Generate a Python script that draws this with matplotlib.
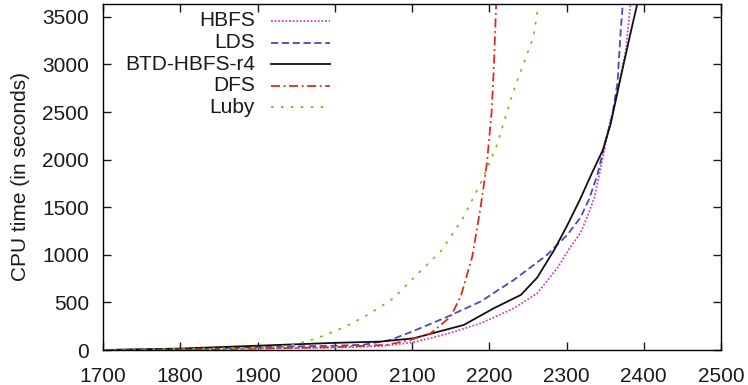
import numpy as np
import matplotlib
matplotlib.use('Agg')
import matplotlib.pyplot as plt

plt.rcParams['font.family'] = ['Liberation Sans', 'DejaVu Sans']

# data (instance count -> cpu time)
hbfs_x = [1700, 1800, 1900, 2000, 2059, 2102, 2146, 2189, 2232, 2262, 2288, 2305, 2318, 2327, 2336, 2344, 2355, 2364, 2377, 2383]
hbfs_y = [0, 5, 15, 25, 40, 80, 170, 281, 439, 596, 860, 1080, 1230, 1400, 1600, 1900, 2351, 2631, 3158, 3650]

lds_x = [1700, 1800, 1900, 2000, 2037, 2072, 2102, 2146, 2189, 2232, 2275, 2301, 2318, 2329, 2340, 2351, 2359, 2366, 2370, 2373]
lds_y = [0, 10, 30, 45, 55, 105, 200, 350, 510, 737, 1000, 1210, 1390, 1580, 1840, 2210, 2456, 2807, 3333, 3650]

btd_x = [1700, 1800, 1900, 2000, 2059, 2102, 2167, 2206, 2241, 2262, 2284, 2301, 2318, 2333, 2347, 2357, 2370, 2383, 2392]
btd_y = [0, 15, 45, 75, 88, 123, 263, 439, 579, 760, 1050, 1310, 1590, 1860, 2100, 2370, 2860, 3333, 3650]

dfs_x = [1700, 1800, 1900, 2000, 2068, 2098, 2124, 2150, 2163, 2178, 2189, 2197, 2203, 2206, 2209]
dfs_y = [0, 5, 15, 30, 55, 105, 175, 350, 560, 980, 1510, 1965, 2490, 2980, 3650]

luby_x = [1700, 1800, 1900, 1942, 1977, 2012, 2045, 2076, 2104, 2139, 2166, 2189, 2209, 2231, 2244, 2257, 2263]
luby_y = [0, 10, 25, 45, 123, 239, 379, 544, 772, 1053, 1386, 1754, 2130, 2712, 3000, 3288, 3590]

series = [
    ('HBFS', hbfs_x, hbfs_y, '#cc44cc', (0, (1, 1))),
    ('LDS', lds_x, lds_y, '#4a4ab8', (0, (4, 2))),
    ('BTD-HBFS-r4', btd_x, btd_y, '#111111', '-'),
    ('DFS', dfs_x, dfs_y, '#e02a1e', (0, (5, 2, 1, 2))),
    ('Luby', luby_x, luby_y, '#77c41c', (0, (1.5, 4))),
]

fig = plt.figure(figsize=(7.48, 3.85), dpi=100)
ax = fig.add_axes([103/748, 1-350/385, (721-103)/748, (350-3.5)/385])

for name, x, y, c, ls in series:
    ax.plot(x, y, color=c, linestyle=ls, linewidth=1.3)

ax.set_xlim(1700, 2500)
ax.set_ylim(0, 3640)
ax.set_xticks(np.arange(1700, 2501, 100))
ax.set_yticks(np.arange(0, 3501, 500))
ax.tick_params(direction='in', length=6, width=1, top=True, right=True,
               labelsize=15, colors='#1a1a1a')
ax.tick_params(axis='x', pad=12)
ax.tick_params(axis='y', pad=10)
for s in ax.spines.values():
    s.set_linewidth(1.0)
ax.set_ylabel('CPU time (in seconds)', fontsize=15, labelpad=9, color='#1a1a1a')

# legend drawn by hand: label right aligned, sample on the right
for i, (name, x, y, c, ls) in enumerate(series):
    ypix = 21 + i * 21.6
    ya = (350 - ypix) / (350 - 3.5)
    ax.text((255 - 103) / 618, ya, name, transform=ax.transAxes, ha='right', va='center',
            fontsize=15, color='#1a1a1a')
    ax.plot([(271 - 103) / 618, (330 - 103) / 618], [ya, ya], transform=ax.transAxes,
            color=c, linestyle=ls, linewidth=1.3)

plt.savefig('out.png', dpi=100)
plt.close()
